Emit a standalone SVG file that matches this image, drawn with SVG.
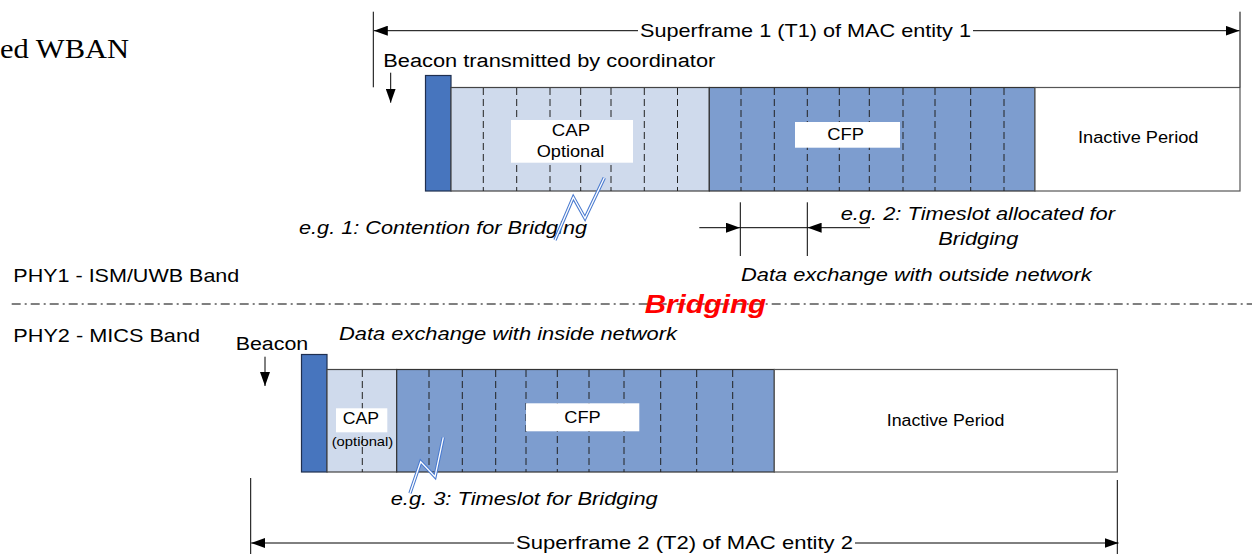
<svg xmlns="http://www.w3.org/2000/svg" width="1252" height="554" viewBox="0 0 1252 554">
<defs>
<style>
.t{font-family:"Liberation Sans",Arial,sans-serif;fill:#000}
.i{font-style:italic}
.ser{font-family:"Liberation Serif","Times New Roman",serif;fill:#000}
.beacon{fill:#4775be;stroke:#1f2f4f;stroke-width:1.2}
.cap{fill:#cfdaec;stroke:#444;stroke-width:1.2}
.cfp{fill:#7d9dcf;stroke:#333;stroke-width:1.2}
.inact{fill:#fff;stroke:#555;stroke-width:1.2}
.slot{stroke:#222;stroke-width:1;stroke-dasharray:7 4;fill:none}
.lbl{fill:#fff}
.ln{stroke:#000;stroke-width:1;fill:none}
.bolt{stroke:#4a7bd0;stroke-width:3.4;fill:none;stroke-linejoin:miter}
.bolti{stroke:#fff;stroke-width:1.3;fill:none;stroke-linejoin:miter}
</style>
<marker id="ah" viewBox="0 0 14 10" refX="14" refY="5" markerWidth="14" markerHeight="10" markerUnits="userSpaceOnUse" orient="auto">
<path d="M0,0 L14,5 L0,10 Z" fill="#000"/>
</marker>
</defs>
<rect width="1252" height="554" fill="#fff"/>

<text class="ser" x="129" y="58" font-size="28" text-anchor="end" textLength="129" lengthAdjust="spacingAndGlyphs">ed WBAN</text>

<g id="superframe1">
<rect class="beacon" x="425.5" y="75.5" width="25.5" height="115.5"/>
<rect class="cap" x="451" y="87.5" width="258.3" height="103.5"/>
<rect class="cfp" x="709.3" y="87.5" width="325.7" height="103.5"/>
<rect class="inact" x="1035" y="87.5" width="205" height="103.5"/>
<g class="slot">
<line x1="483.3" y1="88" x2="483.3" y2="191"/>
<line x1="516.7" y1="88" x2="516.7" y2="191"/>
<line x1="550" y1="88" x2="550" y2="191"/>
<line x1="580.7" y1="88" x2="580.7" y2="191"/>
<line x1="611" y1="88" x2="611" y2="191"/>
<line x1="644.3" y1="88" x2="644.3" y2="191"/>
<line x1="677.5" y1="88" x2="677.5" y2="191"/>
<line x1="741" y1="88" x2="741" y2="191"/>
<line x1="774.3" y1="88" x2="774.3" y2="191"/>
<line x1="807.3" y1="88" x2="807.3" y2="191"/>
<line x1="839.3" y1="88" x2="839.3" y2="191"/>
<line x1="869.3" y1="88" x2="869.3" y2="191"/>
<line x1="903" y1="88" x2="903" y2="191"/>
<line x1="935" y1="88" x2="935" y2="191"/>
<line x1="970.7" y1="88" x2="970.7" y2="191"/>
<line x1="1004" y1="88" x2="1004" y2="191"/>
</g>
<rect class="lbl" x="511" y="120" width="122" height="42.7"/>
<text class="t" x="571" y="136" font-size="16" text-anchor="middle" textLength="38.3" lengthAdjust="spacingAndGlyphs">CAP</text>
<text class="t" x="570.5" y="156.7" font-size="16" text-anchor="middle" textLength="67.6" lengthAdjust="spacingAndGlyphs">Optional</text>
<rect class="lbl" x="795" y="122" width="105" height="25.7"/>
<text class="t" x="845.7" y="140" font-size="16" text-anchor="middle" textLength="36.7" lengthAdjust="spacingAndGlyphs">CFP</text>
<text class="t" x="1078" y="143.3" font-size="16" textLength="120.5" lengthAdjust="spacingAndGlyphs">Inactive Period</text>
</g>

<g id="superframe2">
<rect class="beacon" x="301.5" y="354.5" width="25.5" height="117.5"/>
<rect class="cap" x="327" y="369.5" width="69.7" height="102.5"/>
<rect class="cfp" x="396.7" y="369.5" width="377.6" height="102.5"/>
<rect class="inact" x="774.3" y="369.5" width="343" height="102.5"/>
<g class="slot">
<line x1="362.3" y1="370" x2="362.3" y2="472"/>
<line x1="429" y1="370" x2="429" y2="472"/>
<line x1="462.3" y1="370" x2="462.3" y2="472"/>
<line x1="495.7" y1="370" x2="495.7" y2="472"/>
<line x1="526" y1="370" x2="526" y2="472"/>
<line x1="557.3" y1="370" x2="557.3" y2="472"/>
<line x1="589" y1="370" x2="589" y2="472"/>
<line x1="624" y1="370" x2="624" y2="472"/>
<line x1="660.7" y1="370" x2="660.7" y2="472"/>
<line x1="696.7" y1="370" x2="696.7" y2="472"/>
<line x1="732.7" y1="370" x2="732.7" y2="472"/>
</g>
<rect class="lbl" x="336" y="408.3" width="51.3" height="24"/>
<text class="t" x="361" y="424" font-size="16" text-anchor="middle" textLength="36.3" lengthAdjust="spacingAndGlyphs">CAP</text>
<text class="t" x="362.5" y="446" font-size="13" text-anchor="middle" textLength="61.6" lengthAdjust="spacingAndGlyphs">(optional)</text>
<rect class="lbl" x="526" y="403.3" width="113.3" height="28"/>
<text class="t" x="582.5" y="422.7" font-size="16" text-anchor="middle" textLength="36.4" lengthAdjust="spacingAndGlyphs">CFP</text>
<text class="t" x="886.7" y="425.7" font-size="16" textLength="117.6" lengthAdjust="spacingAndGlyphs">Inactive Period</text>
</g>

<g id="labels">
<text class="t" x="640" y="37.3" font-size="19" textLength="331" lengthAdjust="spacingAndGlyphs">Superframe 1 (T1) of MAC entity 1</text>
<text class="t" x="383.3" y="67" font-size="18" textLength="332" lengthAdjust="spacingAndGlyphs">Beacon transmitted by coordinator</text>
<text class="t i" x="299" y="234" font-size="18" textLength="288" lengthAdjust="spacingAndGlyphs">e.g. 1: Contention for Bridging</text>
<text class="t i" x="840.7" y="220" font-size="18" textLength="274.3" lengthAdjust="spacingAndGlyphs">e.g. 2: Timeslot allocated for</text>
<text class="t i" x="938.3" y="245" font-size="18" textLength="80" lengthAdjust="spacingAndGlyphs">Bridging</text>
<text class="t i" x="741" y="280.7" font-size="18" textLength="350.7" lengthAdjust="spacingAndGlyphs">Data exchange with outside network</text>
<text class="t" x="13.3" y="281.7" font-size="19" textLength="226" lengthAdjust="spacingAndGlyphs">PHY1 - ISM/UWB Band</text>
<text class="t" x="13.3" y="341.7" font-size="19" textLength="186.7" lengthAdjust="spacingAndGlyphs">PHY2 - MICS Band</text>
<text class="t" x="235.7" y="350" font-size="18" textLength="72.6" lengthAdjust="spacingAndGlyphs">Beacon</text>
<text class="t i" x="339" y="340" font-size="18" textLength="338" lengthAdjust="spacingAndGlyphs">Data exchange with inside network</text>
<text class="t i" x="390.7" y="505" font-size="18" textLength="267" lengthAdjust="spacingAndGlyphs">e.g. 3: Timeslot for Bridging</text>
<text class="t" x="516" y="549" font-size="19" textLength="337" lengthAdjust="spacingAndGlyphs">Superframe 2 (T2) of MAC entity 2</text>
</g>

<line x1="11.7" y1="304" x2="1252" y2="304" stroke="#000" stroke-width="1" stroke-dasharray="9 4 2 4"/>
<text id="bridging" x="644.7" y="313.3" font-family="'Liberation Sans',Arial,sans-serif" font-size="26" font-weight="bold" font-style="italic" fill="#ff0000" textLength="121.3" lengthAdjust="spacingAndGlyphs">Bridging</text>

<g id="connectors">
<line class="ln" x1="373.3" y1="11.7" x2="373.3" y2="87.3"/>
<line class="ln" x1="1240" y1="11.7" x2="1240" y2="87.3"/>
<path class="ln" d="M638,30.7 H373.8" marker-end="url(#ah)"/>
<path class="ln" d="M973,30.7 H1239.5" marker-end="url(#ah)"/>
<path class="ln" d="M390.7,72.7 V102.7" marker-end="url(#ah)"/>
<line class="ln" x1="740.3" y1="202.3" x2="740.3" y2="256"/>
<line class="ln" x1="807.3" y1="202.3" x2="807.3" y2="256"/>
<path class="ln" d="M699.3,227.7 H740" marker-end="url(#ah)"/>
<path class="ln" d="M870,227.7 H807.6" marker-end="url(#ah)"/>
<line class="ln" x1="740.3" y1="227.7" x2="807.3" y2="227.7"/>
<path class="ln" d="M265,356.7 V386" marker-end="url(#ah)"/>
<line class="ln" x1="250.7" y1="478" x2="250.7" y2="554"/>
<line class="ln" x1="1117.3" y1="480" x2="1117.3" y2="554"/>
<path class="ln" d="M514,543 H251.2" marker-end="url(#ah)"/>
<path class="ln" d="M855,543 H1118.5" marker-end="url(#ah)"/>
<path class="bolt" d="M604.3,177.7 L585,218.3 L573.3,197.3 L555,240"/>
<path class="bolti" d="M604.3,177.7 L585,218.3 L573.3,197.3 L555,240"/>
<path class="bolt" d="M443.3,437.3 L435,476.7 L420.7,461.7 L410,493.3"/>
<path class="bolti" d="M443.3,437.3 L435,476.7 L420.7,461.7 L410,493.3"/>
</g>
</svg>
